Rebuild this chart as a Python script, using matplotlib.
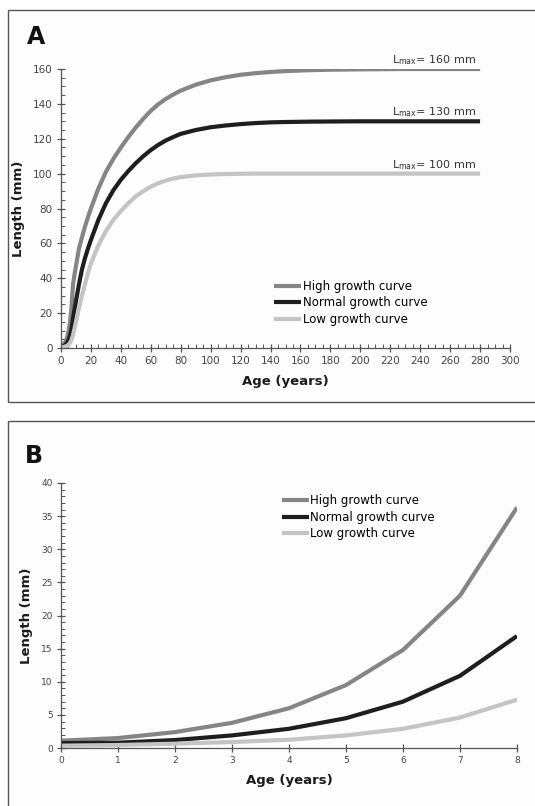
import matplotlib
matplotlib.use("Agg")
import matplotlib.pyplot as plt
from matplotlib.patches import Rectangle
from matplotlib.ticker import MultipleLocator

# ---------------- data ----------------
series_names = ["High growth curve", "Normal growth curve", "Low growth curve"]
series_colors = ["#858585", "#1e1e1e", "#c4c4c4"]

# Panel A (age 0-280 years)
ages_A = [0, 1, 2, 3, 4, 5, 6, 7, 8, 9, 10, 12, 14, 16, 18, 20, 25, 30, 35, 40,
          45, 50, 55, 60, 65, 70, 75, 80, 90, 100, 110, 120, 130, 140, 150, 165,
          180, 200, 230, 280]
high_A = [1.1, 1.5, 2.4, 3.8, 6.0, 9.5, 14.8, 23.0, 36.3, 42, 47, 57, 63.5, 69.5,
          75, 80, 91.5, 101, 108.5, 115, 121, 126.5, 131.5, 136, 139.8, 142.8,
          145.4, 147.6, 151, 153.5, 155.3, 156.7, 157.6, 158.3, 158.8, 159.3,
          159.6, 159.8, 160, 160]
normal_A = [0.75, 0.8, 1.2, 1.9, 2.9, 4.5, 7.0, 10.9, 16.9, 22, 27, 36.5, 45, 51.5,
            57, 62, 73.5, 83, 90.5, 96.5, 101.5, 106, 110, 113.5, 116.5, 119, 121,
            122.8, 125, 126.6, 127.6, 128.4, 129, 129.4, 129.6, 129.8, 129.9, 130,
            130, 130]
low_A = [0.35, 0.45, 0.65, 0.9, 1.25, 1.9, 2.9, 4.6, 7.3, 11, 15, 23, 30, 36.5,
         43, 48.5, 59, 67, 73.5, 78.5, 83, 87, 90, 92.5, 94.5, 96, 97.2, 98, 99,
         99.5, 99.8, 99.9, 100, 100, 100, 100, 100, 100, 100, 100]
lmax_values = [160, 130, 100]

# Panel B (age 0-8 years)
ages_B = [0, 1, 2, 3, 4, 5, 6, 7, 8]
high_B = [1.1, 1.5, 2.4, 3.8, 6.0, 9.5, 14.8, 23.0, 36.3]
normal_B = [0.75, 0.8, 1.2, 1.9, 2.9, 4.5, 7.0, 10.9, 16.9]
low_B = [0.35, 0.45, 0.65, 0.9, 1.25, 1.9, 2.9, 4.6, 7.3]

# ---------------- figure ----------------
W, H = 535, 806
fig = plt.figure(figsize=(W / 100, H / 100), dpi=100)
fig.patch.set_facecolor("white")

def px_rect(x0, y0, x1, y1):
    return (x0 / W, 1 - y1 / H, (x1 - x0) / W, (y1 - y0) / H)

# background axes holding the panel frames
bg = fig.add_axes([0, 0, 1, 1], zorder=-5)
bg.set_xlim(0, W)
bg.set_ylim(H, 0)
bg.axis("off")
for (x0, y0, x1, y1) in [(8, 10, 540, 402), (8, 421, 540, 812)]:
    bg.add_patch(Rectangle((x0, y0), x1 - x0, y1 - y0,
                           facecolor="#fdfdfd", edgecolor="#555555", linewidth=1.0))

tick_color = "#555555"
label_kw = dict(fontweight="bold", color="#1a1a1a")
legend_kw = dict(loc="upper left", frameon=False, fontsize=8.5, handlelength=2.3,
                 handletextpad=0.1, labelspacing=0.3, borderpad=0, borderaxespad=0)

def style_axes(ax, tick_fs):
    ax.set_facecolor("none")
    for s in ["top", "right"]:
        ax.spines[s].set_visible(False)
    for s in ["left", "bottom"]:
        ax.spines[s].set_color(tick_color)
        ax.spines[s].set_linewidth(0.9)
    ax.tick_params(which="major", direction="inout", length=6, width=0.9,
                   color=tick_color, labelcolor="#444444", labelsize=tick_fs, pad=3)
    ax.tick_params(which="minor", direction="in", length=3, width=0.7,
                   color=tick_color)

# ---------- Panel A ----------
axA = fig.add_axes(px_rect(61, 69, 510, 348), zorder=2)
style_axes(axA, 7.5)
for vals, name, col in zip([high_A, normal_A, low_A], series_names, series_colors):
    axA.plot(ages_A, vals, color=col, lw=3.0, label=name, solid_capstyle="butt",
             solid_joinstyle="round")
axA.set_xlim(0, 300)
axA.set_ylim(0, 160)
axA.xaxis.set_major_locator(MultipleLocator(20))
axA.xaxis.set_minor_locator(MultipleLocator(5))
axA.yaxis.set_major_locator(MultipleLocator(20))
axA.yaxis.set_minor_locator(MultipleLocator(5))
axA.set_xlabel("Age (years)", fontsize=9.5, labelpad=6, **label_kw)
axA.set_ylabel("Length (mm)", fontsize=9.5, labelpad=6, **label_kw)
for v in lmax_values:
    axA.text(ages_A[-1] - 3, v + 1.2, r"L$_{\mathregular{max}}$= %d mm" % v,
             ha="right", va="bottom", fontsize=8, color="#333333")
axA.legend(bbox_to_anchor=(0.475, 0.245), **legend_kw)
fig.text(27 / W, 1 - 37 / H, "A", fontsize=17, fontweight="bold",
         ha="left", va="center", color="#111111")

# ---------- Panel B ----------
axB = fig.add_axes(px_rect(61, 483, 517, 748), zorder=2)
style_axes(axB, 6.5)
for vals, name, col in zip([high_B, normal_B, low_B], series_names, series_colors):
    axB.plot(ages_B, vals, color=col, lw=3.0, label=name, solid_capstyle="butt")
axB.set_xlim(0, 8)
axB.set_ylim(0, 40)
axB.xaxis.set_major_locator(MultipleLocator(1))
axB.yaxis.set_major_locator(MultipleLocator(5))
axB.yaxis.set_minor_locator(MultipleLocator(1))
axB.set_xlabel("Age (years)", fontsize=9.5, labelpad=6, **label_kw)
axB.set_ylabel("Length (mm)", fontsize=9.5, labelpad=6, **label_kw)
axB.legend(bbox_to_anchor=(0.485, 0.958), **legend_kw)
fig.text(25 / W, 1 - 456 / H, "B", fontsize=17, fontweight="bold",
         ha="left", va="center", color="#111111")

fig.savefig("out.png", dpi=100, facecolor="white")
